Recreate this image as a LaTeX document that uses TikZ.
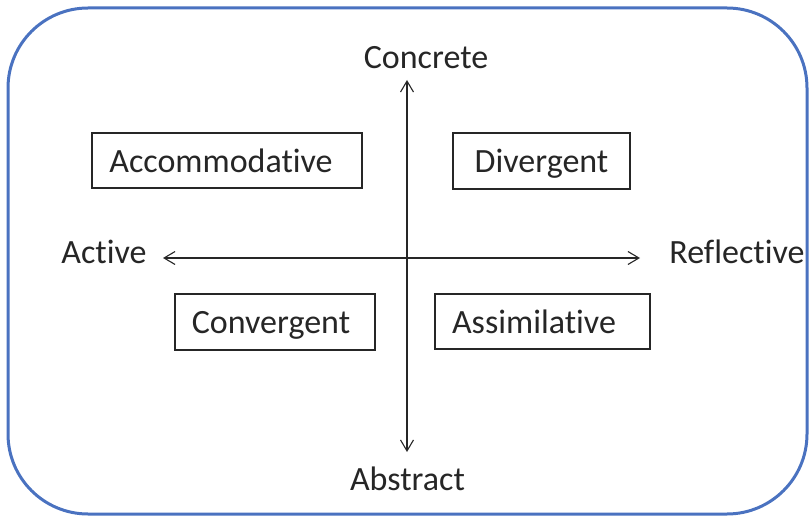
\documentclass[tikz,border=0pt]{standalone}
\usepackage{fontspec}
\setmainfont[Ligatures=NoCommon]{Carlito}
\usetikzlibrary{arrows.meta}
\definecolor{frameblue}{HTML}{4A72C0}
\definecolor{ink}{HTML}{262626}
\begin{document}
\begin{tikzpicture}[x=1pt,y=-1pt,
  lbl/.style={font=\fontsize{34}{40}\selectfont, text=ink, inner sep=0pt, anchor=base},
  stylebox/.style={draw=ink, line width=1.3pt, inner sep=0pt, anchor=center},
  axis/.style={draw=ink, line width=1.1pt, {Straight Barb[length=11pt,width=13pt,line width=1.1pt]}-{Straight Barb[length=11pt,width=13pt,line width=1.1pt]}}]
  \useasboundingbox (0,0) rectangle (811,516);
  % outer frame
  \draw[frameblue, line width=3pt, rounded corners=80pt] (8,8) rectangle (807,514);

  % style boxes
  \node[stylebox, minimum width=270pt, minimum height=55pt] (accbox) at (227,160.5) {};
  \node[stylebox, minimum width=177pt, minimum height=56pt] (divbox) at (541.5,161) {};
  \node[stylebox, minimum width=200pt, minimum height=56pt] (convbox) at (275,322) {};
  \node[stylebox, minimum width=215pt, minimum height=55pt] (assbox) at (542.5,321.5) {};

  \node[lbl] (acc) at (221,172) {Accommodative};
  \node[lbl] (div) at (541.5,172.5) {Divergent};
  \node[lbl] (conv) at (271,333) {Convergent};
  \node[lbl] (ass) at (534,333) {Assimilative};

  % axis labels
  \node[lbl] (concrete) at (426,69) {Concrete};
  \node[lbl] (abstract) at (407.5,490) {Abstract};
  \node[lbl] (active) at (104,263) {Active};
  \node[lbl] (reflective) at (737,263) {Reflective};

  % axes
  \coordinate (top) at (407,80);
  \coordinate (bottom) at (407,452);
  \coordinate (left) at (163,258);
  \coordinate (right) at (640,258);
  \draw[axis] (top) -- (bottom);
  \draw[axis] (left) -- (right);
\end{tikzpicture}
\end{document}
